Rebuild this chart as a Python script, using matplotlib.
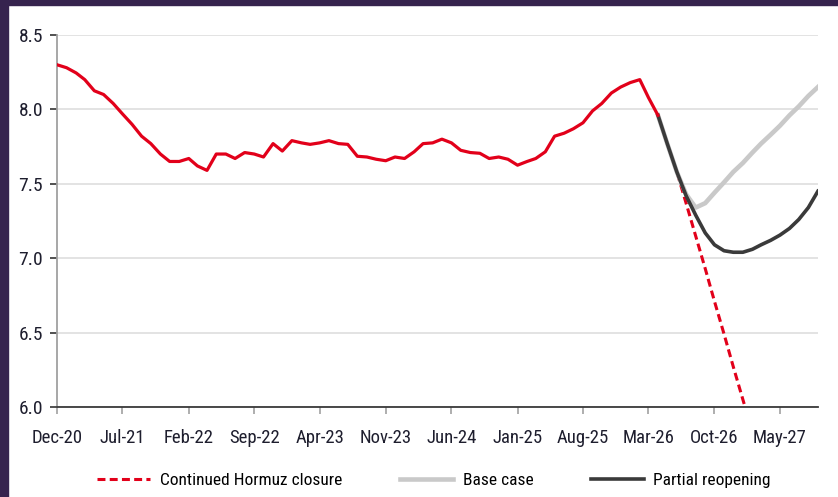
import numpy as np
import pandas as pd
import matplotlib
matplotlib.use("Agg")
import matplotlib.pyplot as plt
import matplotlib.dates as mdates
from matplotlib.patches import Rectangle

plt.rcParams['font.family'] = ['Roboto Condensed', 'Liberation Sans', 'DejaVu Sans']

# monthly index, Dec-20 .. Sep-27
months = pd.date_range("2020-12-01", "2027-09-01", freq="MS")

# history, Dec-20 .. Apr-26
history = [8.30, 8.28, 8.245, 8.20, 8.125, 8.10, 8.04, 7.97, 7.90, 7.82,
           7.77, 7.70, 7.65, 7.65, 7.67, 7.62, 7.59, 7.70, 7.70, 7.67,
           7.71, 7.70, 7.68, 7.77, 7.72, 7.79, 7.775, 7.765, 7.775, 7.79,
           7.77, 7.765, 7.685, 7.68, 7.665, 7.655, 7.68, 7.67, 7.715, 7.77,
           7.775, 7.80, 7.775, 7.725, 7.71, 7.705, 7.67, 7.68, 7.665, 7.625,
           7.65, 7.67, 7.715, 7.82, 7.84, 7.87, 7.91, 7.99, 8.04, 8.11,
           8.15, 8.18, 8.20, 8.08, 7.96]

# scenarios, Apr-26 onwards
closure = [7.96, 7.77, 7.58, 7.37, 7.15, 6.93, 6.71, 6.49, 6.27, 6.05, 5.83]
base = [7.96, 7.77, 7.58, 7.43, 7.34, 7.37, 7.44, 7.51, 7.58, 7.64,
        7.71, 7.77, 7.83, 7.89, 7.96, 8.02, 8.09, 8.15]
partial = [7.96, 7.77, 7.58, 7.42, 7.29, 7.17, 7.09, 7.05, 7.04, 7.04,
           7.06, 7.09, 7.12, 7.155, 7.20, 7.26, 7.34, 7.45]

labels = ["Continued Hormuz closure", "Base case", "Partial reopening"]

start = len(history) - 1
hist_x = months[:len(history)]
closure_x = months[start:start + len(closure)]
base_x = months[start:start + len(base)]
partial_x = months[start:start + len(partial)]

fig = plt.figure(figsize=(8.38, 4.97), dpi=100)
ax = fig.add_axes([0.068, 0.1811, 0.908, 0.7485])

ax.plot(closure_x, closure, color="#e2001a", lw=2.2, ls=(0, (2.6, 1.4)), label=labels[0], zorder=3)
ax.plot(base_x, base, color="#c9c9c9", lw=3.3, label=labels[1], zorder=4)
ax.plot(partial_x, partial, color="#3a3a3a", lw=2.6, label=labels[2], zorder=5)
ax.plot(hist_x, history, color="#e2001a", lw=2.3, zorder=6)

ax.set_ylim(6.0, 8.5)
ax.set_yticks([6.0, 6.5, 7.0, 7.5, 8.0, 8.5])
ax.yaxis.set_major_formatter(matplotlib.ticker.FormatStrFormatter("%.1f"))
ax.set_xlim(months[0], months[-1])
ax.set_xticks(months[::7])
ax.xaxis.set_major_formatter(mdates.DateFormatter("%b-%y"))

ax.grid(axis="y", color="#dedede", lw=1.2)
ax.set_axisbelow(True)
for s in ["top", "right"]:
    ax.spines[s].set_visible(False)
ax.spines["left"].set_color("#a0a0a0")
ax.spines["left"].set_linewidth(1.3)
ax.spines["bottom"].set_color("#3a3a3a")
ax.spines["bottom"].set_linewidth(1.3)

ax.tick_params(axis="y", length=5, width=1.1, color="#222222", pad=5,
               labelsize=14, labelcolor="#1e1e2e")
ax.tick_params(axis="x", length=5, width=1.1, color="#999999", pad=11,
               labelsize=13.5, labelcolor="#1e1e2e")

fig.legend(loc="center", bbox_to_anchor=(0.518, 0.033), ncol=3, frameon=False,
           fontsize=12.5, handlelength=3.05, handletextpad=0.57, columnspacing=3.3)

# dark frame on the left and top
fig.patches.append(Rectangle((0, 0), 8 / 838, 1, transform=fig.transFigure,
                             color="#36234e", zorder=10))
fig.patches.append(Rectangle((0, 1 - 5 / 497), 1, 5 / 497, transform=fig.transFigure,
                             color="#36234e", zorder=10))

fig.savefig("out.png", dpi=100)
